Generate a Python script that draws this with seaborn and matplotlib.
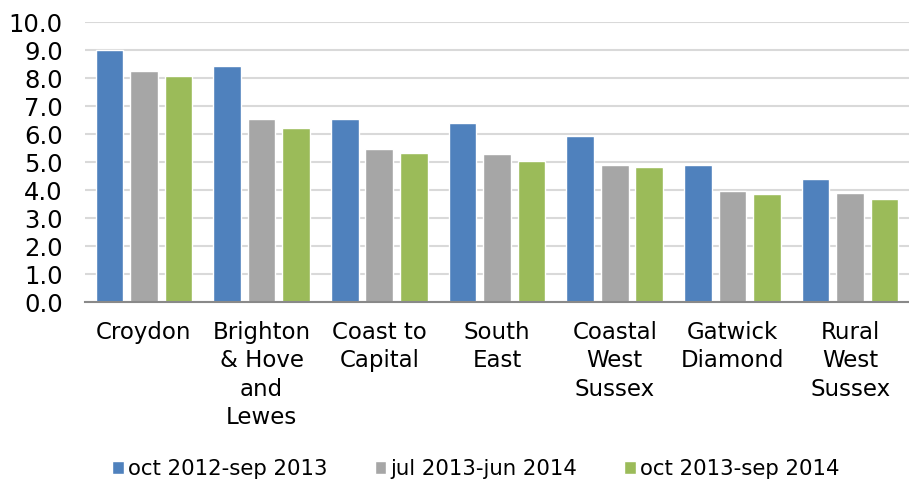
import numpy as np
import pandas as pd
import matplotlib
matplotlib.use("Agg")
import matplotlib.pyplot as plt
import seaborn as sns

# data
regions = ['Croydon', 'Brighton\n& Hove\nand\nLewes', 'Coast to\nCapital', 'South\nEast',
           'Coastal\nWest\nSussex', 'Gatwick\nDiamond', 'Rural\nWest\nSussex']
periods = ['oct 2012-sep 2013', 'jul 2013-jun 2014', 'oct 2013-sep 2014']
v_2012 = [9.0, 8.42, 6.55, 6.41, 5.92, 4.88, 4.41]
v_2013a = [8.25, 6.55, 5.48, 5.27, 4.91, 3.98, 3.9]
v_2013b = [8.07, 6.23, 5.31, 5.04, 4.83, 3.84, 3.69]
colors = ['#4f81bd', '#a6a6a6', '#9bbb59']

df = pd.DataFrame({
    'region': regions * 3,
    'period': np.repeat(periods, len(regions)),
    'value': v_2012 + v_2013a + v_2013b,
})

sns.set_style("white")
plt.rcParams['font.family'] = ['DejaVu Sans']
plt.rcParams['text.color'] = 'black'

fig = plt.figure(figsize=(9.09, 4.84), dpi=100)
ax = fig.add_axes([85 / 909, 1 - 302 / 484, 824 / 909, 280 / 484])

sns.barplot(data=df, x='region', y='value', hue='period', palette=colors,
            width=0.88, gap=0.2, saturation=1, ax=ax, legend=True)

ax.set_ylim(0, 10)
ax.set_xlim(-0.5, 6.5)
ax.set_yticks(np.arange(0, 10.1, 1))
ax.set_yticklabels([f'{t:.1f}' for t in np.arange(0, 10.1, 1)], fontsize=17.5, color='black')
ax.yaxis.grid(True, color='#d9d9d9', linewidth=1.5)
ax.set_axisbelow(True)
for s in ['top', 'right', 'left']:
    ax.spines[s].set_visible(False)
ax.spines['bottom'].set_color('#898989')
ax.spines['bottom'].set_linewidth(1.5)
ax.tick_params(axis='y', length=0, pad=16)
ax.tick_params(axis='x', length=0, pad=14)
for lab in ax.get_xticklabels():
    lab.set_fontsize(16.5)
    lab.set_color('black')
    lab.set_linespacing(1.28)
    lab.set_verticalalignment('top')
ax.set_xlabel('')
ax.set_ylabel('')

handles, labels = ax.get_legend_handles_labels()
leg = ax.legend(handles, labels, loc='lower center', bbox_to_anchor=(0.5 - 21 / 824, -0.7),
                ncol=3, frameon=False, fontsize=15.3, handlelength=0.55, handleheight=0.55,
                handletextpad=0.2, columnspacing=2.2)

fig.savefig('out.png', dpi=100)
